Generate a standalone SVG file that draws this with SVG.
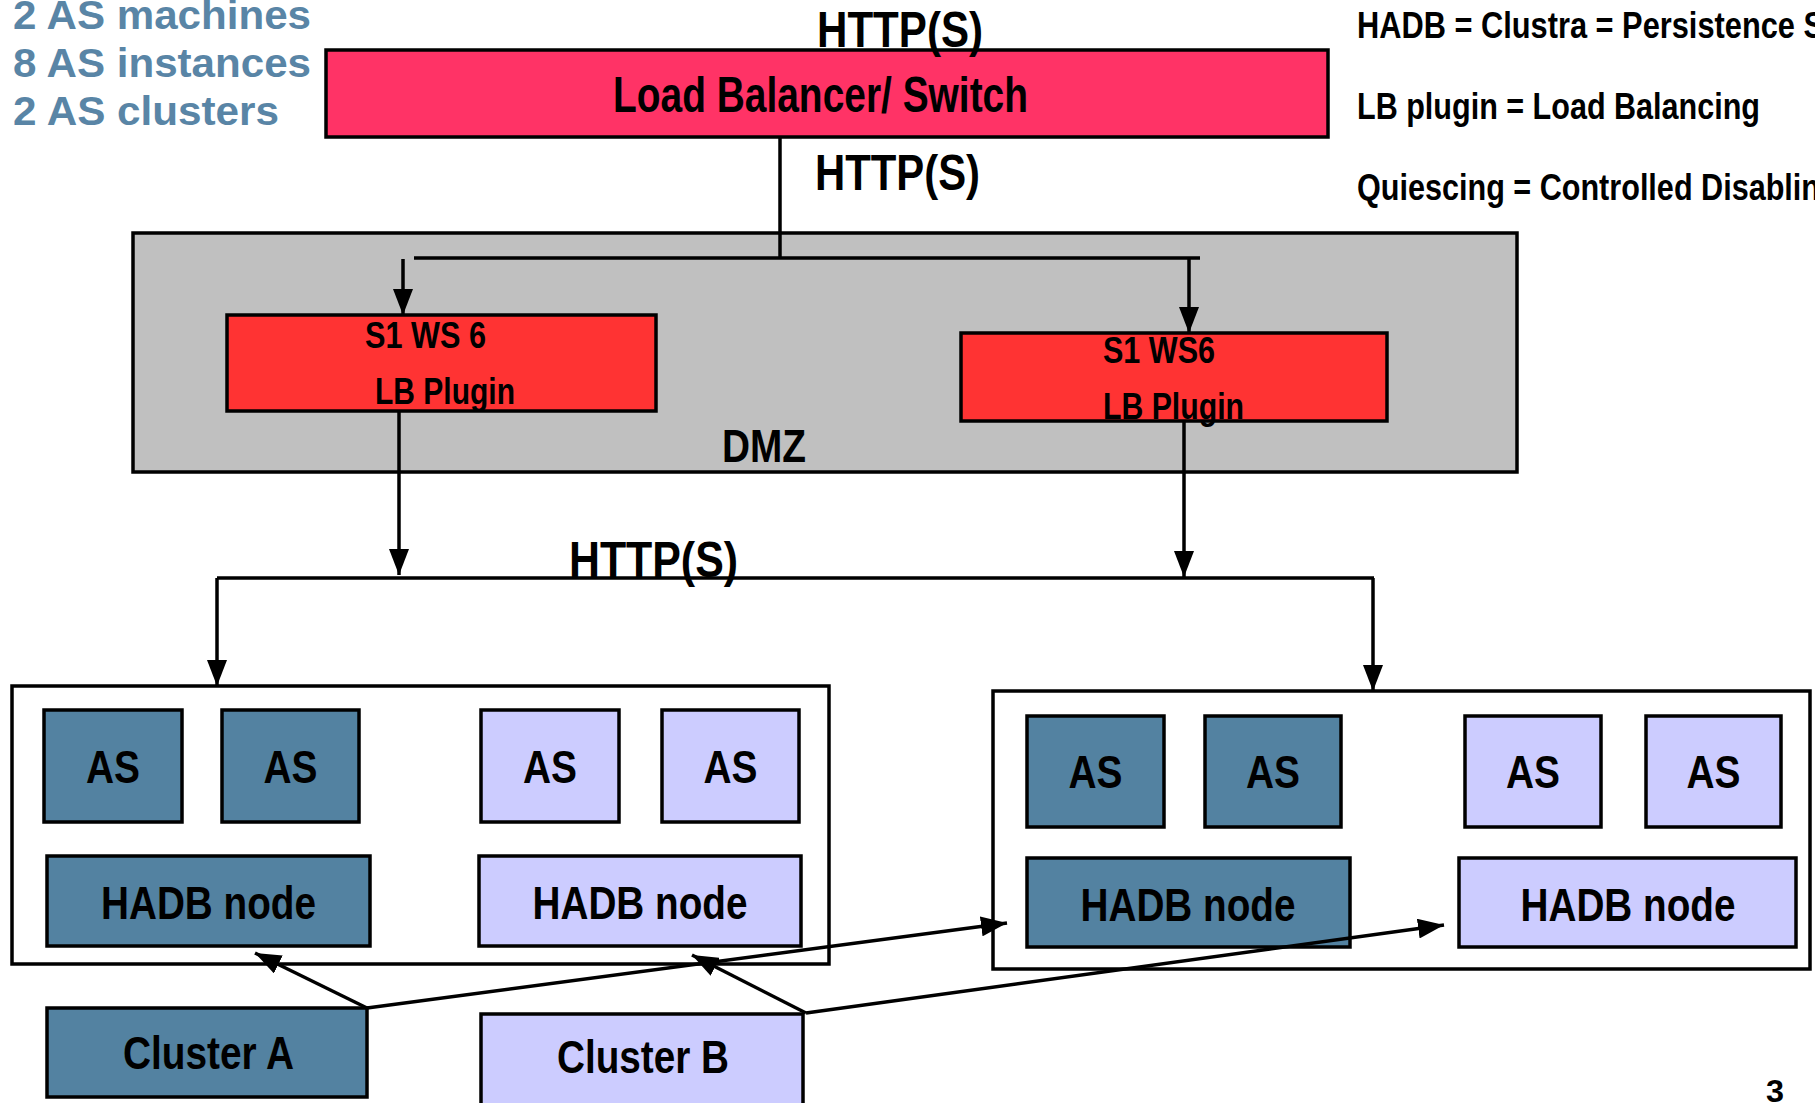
<svg xmlns="http://www.w3.org/2000/svg" width="1815" height="1103" viewBox="0 0 1815 1103">
<style>
.t{font-family:"Liberation Sans",Arial,sans-serif;font-weight:bold;fill:#000}
.blue{fill:#5985a6;font-size:41px}
.box{stroke:#000;stroke-width:3.5}
.dark{fill:#5382a1}
.light{fill:#ccccff}
.as{font-size:46px;text-anchor:middle}
.hadb{font-size:47px;text-anchor:middle}
.plug{font-size:36px}
.http{font-size:50px}
.note{font-size:36px}
.line{stroke:#000;stroke-width:3.5;fill:none}
</style>
<defs>
<marker id="ah" markerUnits="userSpaceOnUse" markerWidth="26" markerHeight="20" refX="26" refY="10" orient="auto"><path d="M0,0 L26,10 L0,20 z" fill="#000"/></marker>
</defs>
<rect x="0" y="0" width="1815" height="1103" fill="#fff"/>

<g id="summary">
<text class="t blue" x="13" y="29" textLength="298" lengthAdjust="spacingAndGlyphs">2 AS machines</text>
<text class="t blue" x="13" y="77" textLength="298" lengthAdjust="spacingAndGlyphs">8 AS instances</text>
<text class="t blue" x="13" y="125" textLength="266" lengthAdjust="spacingAndGlyphs">2 AS clusters</text>
</g>

<g id="notes">
<text class="t note" x="1357" y="38" textLength="467" lengthAdjust="spacingAndGlyphs">HADB = Clustra = Persistence S</text>
<text class="t note" x="1357" y="119" textLength="403" lengthAdjust="spacingAndGlyphs">LB plugin = Load Balancing</text>
<text class="t note" x="1357" y="200" textLength="463" lengthAdjust="spacingAndGlyphs">Quiescing = Controlled Disablin</text>
</g>

<g id="load-balancer">
<rect class="box" x="326" y="50" width="1002" height="87" fill="#ff3366"/>
<text class="t http" x="613" y="112" textLength="415" lengthAdjust="spacingAndGlyphs">Load Balancer/ Switch</text>
</g>

<g id="dmz">
<rect class="box" x="133" y="233" width="1384" height="239" fill="#c0c0c0"/>
<text class="t" x="722" y="462" font-size="47" textLength="84" lengthAdjust="spacingAndGlyphs">DMZ</text>
</g>

<g id="plugin-left">
<rect class="box" x="227" y="315" width="429" height="96" fill="#ff3333"/>
<text class="t plug" x="365" y="348" textLength="121" lengthAdjust="spacingAndGlyphs">S1 WS 6</text>
<text class="t plug" x="375" y="404" textLength="140" lengthAdjust="spacingAndGlyphs">LB Plugin</text>
</g>

<g id="plugin-right">
<rect class="box" x="961" y="333" width="426" height="88" fill="#ff3333"/>
<text class="t plug" x="1103" y="363" textLength="112" lengthAdjust="spacingAndGlyphs">S1 WS6</text>
<text class="t plug" x="1103" y="419" textLength="141" lengthAdjust="spacingAndGlyphs">LB Plugin</text>
</g>

<g id="machine-1">
<rect class="box" x="12" y="686" width="817" height="278" fill="#fff"/>
</g>
<g id="as-1"><rect class="box dark" x="44" y="710" width="138" height="112"/><text class="t as" x="113" y="783" textLength="54" lengthAdjust="spacingAndGlyphs">AS</text></g>
<g id="as-2"><rect class="box dark" x="222" y="710" width="137" height="112"/><text class="t as" x="290.5" y="783" textLength="54" lengthAdjust="spacingAndGlyphs">AS</text></g>
<g id="as-3"><rect class="box light" x="481" y="710" width="138" height="112"/><text class="t as" x="550" y="783" textLength="54" lengthAdjust="spacingAndGlyphs">AS</text></g>
<g id="as-4"><rect class="box light" x="662" y="710" width="137" height="112"/><text class="t as" x="730.5" y="783" textLength="54" lengthAdjust="spacingAndGlyphs">AS</text></g>
<g id="hadb-1"><rect class="box dark" x="47" y="856" width="323" height="90"/><text class="t hadb" x="208.5" y="919" textLength="215" lengthAdjust="spacingAndGlyphs">HADB node</text></g>
<g id="hadb-2"><rect class="box light" x="479" y="856" width="322" height="90"/><text class="t hadb" x="640" y="919" textLength="215" lengthAdjust="spacingAndGlyphs">HADB node</text></g>

<g id="machine-2">
<rect class="box" x="993" y="691" width="817" height="278" fill="#fff"/>
</g>
<g id="as-5"><rect class="box dark" x="1027" y="716" width="137" height="111"/><text class="t as" x="1095.5" y="788" textLength="54" lengthAdjust="spacingAndGlyphs">AS</text></g>
<g id="as-6"><rect class="box dark" x="1205" y="716" width="136" height="111"/><text class="t as" x="1273" y="788" textLength="54" lengthAdjust="spacingAndGlyphs">AS</text></g>
<g id="as-7"><rect class="box light" x="1465" y="716" width="136" height="111"/><text class="t as" x="1533" y="788" textLength="54" lengthAdjust="spacingAndGlyphs">AS</text></g>
<g id="as-8"><rect class="box light" x="1646" y="716" width="135" height="111"/><text class="t as" x="1713.5" y="788" textLength="54" lengthAdjust="spacingAndGlyphs">AS</text></g>
<g id="hadb-3"><rect class="box dark" x="1027" y="858" width="323" height="89"/><text class="t hadb" x="1188" y="921" textLength="215" lengthAdjust="spacingAndGlyphs">HADB node</text></g>
<g id="hadb-4"><rect class="box light" x="1459" y="858" width="337" height="89"/><text class="t hadb" x="1628" y="921" textLength="215" lengthAdjust="spacingAndGlyphs">HADB node</text></g>

<g id="cluster-a"><rect class="box dark" x="47" y="1008" width="320" height="89"/><text class="t hadb" x="208.5" y="1069" textLength="171" lengthAdjust="spacingAndGlyphs">Cluster A</text></g>
<g id="cluster-b"><rect class="box light" x="481" y="1014" width="322" height="96"/><text class="t hadb" x="643" y="1073" textLength="172" lengthAdjust="spacingAndGlyphs">Cluster B</text></g>

<g id="connectors">
<path class="line" d="M780,137 V258"/>
<path class="line" d="M414,258 H1200"/>
<path class="line" d="M403,259 V315" marker-end="url(#ah)"/>
<path class="line" d="M1189,258 V333" marker-end="url(#ah)"/>
<path class="line" d="M399,411 V575" marker-end="url(#ah)"/>
<path class="line" d="M1184,421 V577" marker-end="url(#ah)"/>
<path class="line" d="M217,578 H1374"/>
<path class="line" d="M217,578 V686" marker-end="url(#ah)"/>
<path class="line" d="M1373,578 V691" marker-end="url(#ah)"/>
<path class="line" d="M367,1008 L255,953" marker-end="url(#ah)"/>
<path class="line" d="M367,1008 L1007,923" marker-end="url(#ah)"/>
<path class="line" d="M806,1013 L692,955" marker-end="url(#ah)"/>
<path class="line" d="M806,1013 L1444,925" marker-end="url(#ah)"/>
</g>

<g id="labels">
<text class="t http" x="817" y="47" textLength="166" lengthAdjust="spacingAndGlyphs">HTTP(S)</text>
<text class="t http" x="815" y="190" textLength="165" lengthAdjust="spacingAndGlyphs">HTTP(S)</text>
<text class="t http" x="569" y="577" textLength="169" lengthAdjust="spacingAndGlyphs">HTTP(S)</text>
<text class="t" x="1766" y="1102" font-size="31" textLength="18" lengthAdjust="spacingAndGlyphs">3</text>
</g>
</svg>
